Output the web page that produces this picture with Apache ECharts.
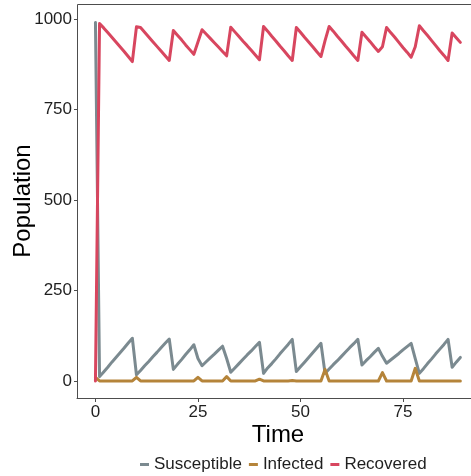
<!DOCTYPE html>
<html>
<head>
<meta charset="utf-8">
<script src="https://cdn.jsdelivr.net/npm/echarts@6/dist/echarts.min.js"></script>
<style>
  html, body { margin: 0; padding: 0; background: #fff; }
  #chart { width: 471px; height: 476px; }
</style>
</head>
<body>
<div id="chart"></div>
<script>
// Daily time steps of the SIRS simulation
const days = Array.from({ length: 90 }, (_, i) => i);

const susceptible = [
  990, 12, 25, 38, 52, 65, 78, 91, 105, 118,
  17, 29, 42, 54, 67, 79, 92, 104, 116, 32,
  46, 59, 73, 86, 100, 62, 42, 53, 64, 74,
  85, 96, 62, 24, 36, 48, 60, 72, 83, 95,
  107, 21, 36, 48, 61, 75, 88, 101, 115, 26,
  39, 52, 65, 78, 91, 104, 21, 33, 45, 56,
  68, 80, 92, 103, 115, 44, 56, 67, 79, 90,
  68, 49, 58, 67, 76, 86, 95, 104, 62, 21,
  34, 48, 61, 75, 88, 101, 115, 38, 52, 65
];

const infected = [
  10, 0, 0, 0, 0, 0, 0, 0, 0, 0,
  10, 0, 0, 0, 0, 0, 0, 0, 0, 0,
  0, 0, 0, 0, 0, 10, 0, 0, 0, 0,
  0, 0, 12, 0, 0, 0, 0, 0, 0, 0,
  5, 0, 0, 0, 0, 0, 0, 0, 1, 0,
  0, 0, 0, 0, 0, 0, 32, 0, 0, 0,
  0, 0, 0, 0, 0, 0, 0, 0, 0, 0,
  23, 0, 0, 0, 0, 0, 0, 0, 35, 0,
  0, 0, 0, 0, 0, 0, 0, 0, 0, 0
];

const recovered = [
  0, 987, 975, 962, 949, 936, 923, 910, 896, 882,
  978, 976, 963, 950, 937, 924, 911, 898, 885, 968,
  955, 942, 928, 915, 902, 936, 970, 958, 946, 934,
  922, 910, 898, 977, 964, 951, 938, 926, 913, 900,
  887, 979, 966, 952, 939, 925, 912, 898, 885, 976,
  963, 949, 936, 923, 909, 896, 940, 979, 966, 952,
  939, 925, 912, 898, 885, 963, 950, 937, 923, 910,
  923, 976, 962, 949, 935, 921, 908, 894, 923, 981,
  967, 954, 940, 926, 912, 899, 885, 961, 948, 935
];

const seriesNames = ['Susceptible', 'Infected', 'Recovered'];
const seriesColors = ['#7b8a90', '#b5843a', '#d8465f'];
const xTicks = [0, 25, 50, 75];
const yTicks = [0, 250, 500, 750, 1000];

const chart = echarts.init(document.getElementById('chart'), null, { renderer: 'canvas' });

const fontFamily = 'Liberation Sans, Arial, sans-serif';
const tickFont = { fontFamily: fontFamily, fontSize: 17, color: '#1f1f1f' };
const axisColor = '#4d4d4d';

function lineSeries(name, values, color) {
  return {
    name: name,
    type: 'line',
    data: days.map((d, i) => [d, values[i]]),
    showSymbol: false,
    symbol: 'none',
    lineStyle: { color: color, width: 3, cap: 'round', join: 'round' },
    itemStyle: { color: color },
    emphasis: { disabled: true },
    animation: false
  };
}

chart.setOption({
  animation: false,
  grid: {
    left: 77, top: 4, right: -16, bottom: 78,
    show: false,
    containLabel: false, outerBoundsMode: 'none'
  },
  xAxis: {
    type: 'value', min: -4.5, max: 95.5,
    axisLine: { show: true, onZero: false, lineStyle: { color: axisColor, width: 1 } },
    axisTick: { show: true, length: 4, customValues: xTicks, lineStyle: { color: axisColor } },
    axisLabel: { customValues: xTicks, margin: 6, formatter: v => String(v), ...tickFont },
    splitLine: { show: false }
  },
  yAxis: {
    type: 'value', min: -47, max: 1041,
    axisLine: { show: false, onZero: false },
    axisTick: { show: true, length: 3, customValues: yTicks, lineStyle: { color: axisColor } },
    axisLabel: { customValues: yTicks, margin: 5, formatter: v => String(v), ...tickFont },
    splitLine: { show: false }
  },
  legend: {
    data: seriesNames,
    left: 135, top: 451,
    icon: 'rect', itemWidth: 9, itemHeight: 3, itemGap: 7,
    textStyle: { fontFamily: fontFamily, fontSize: 17, color: '#1f1f1f' },
    selectedMode: false
  },
  graphic: [
    {
      // top and left edges of the panel
      type: 'polyline',
      shape: { points: [[471, 4.5], [77.5, 4.5], [77.5, 398]] },
      style: { stroke: axisColor, lineWidth: 1, fill: null },
      silent: true
    },
    {
      type: 'text',
      x: 278, y: 435,
      style: {
        text: 'Time', fontFamily: fontFamily, fontSize: 24,
        fill: '#000', align: 'center', verticalAlign: 'middle'
      }
    },
    {
      type: 'text',
      x: 23, y: 201, rotation: Math.PI / 2,
      style: {
        text: 'Population', fontFamily: fontFamily, fontSize: 24,
        fill: '#000', align: 'center', verticalAlign: 'middle'
      }
    }
  ],
  series: [
    lineSeries(seriesNames[0], susceptible, seriesColors[0]),
    lineSeries(seriesNames[1], infected, seriesColors[1]),
    lineSeries(seriesNames[2], recovered, seriesColors[2])
  ]
});
</script>
</body>
</html>
